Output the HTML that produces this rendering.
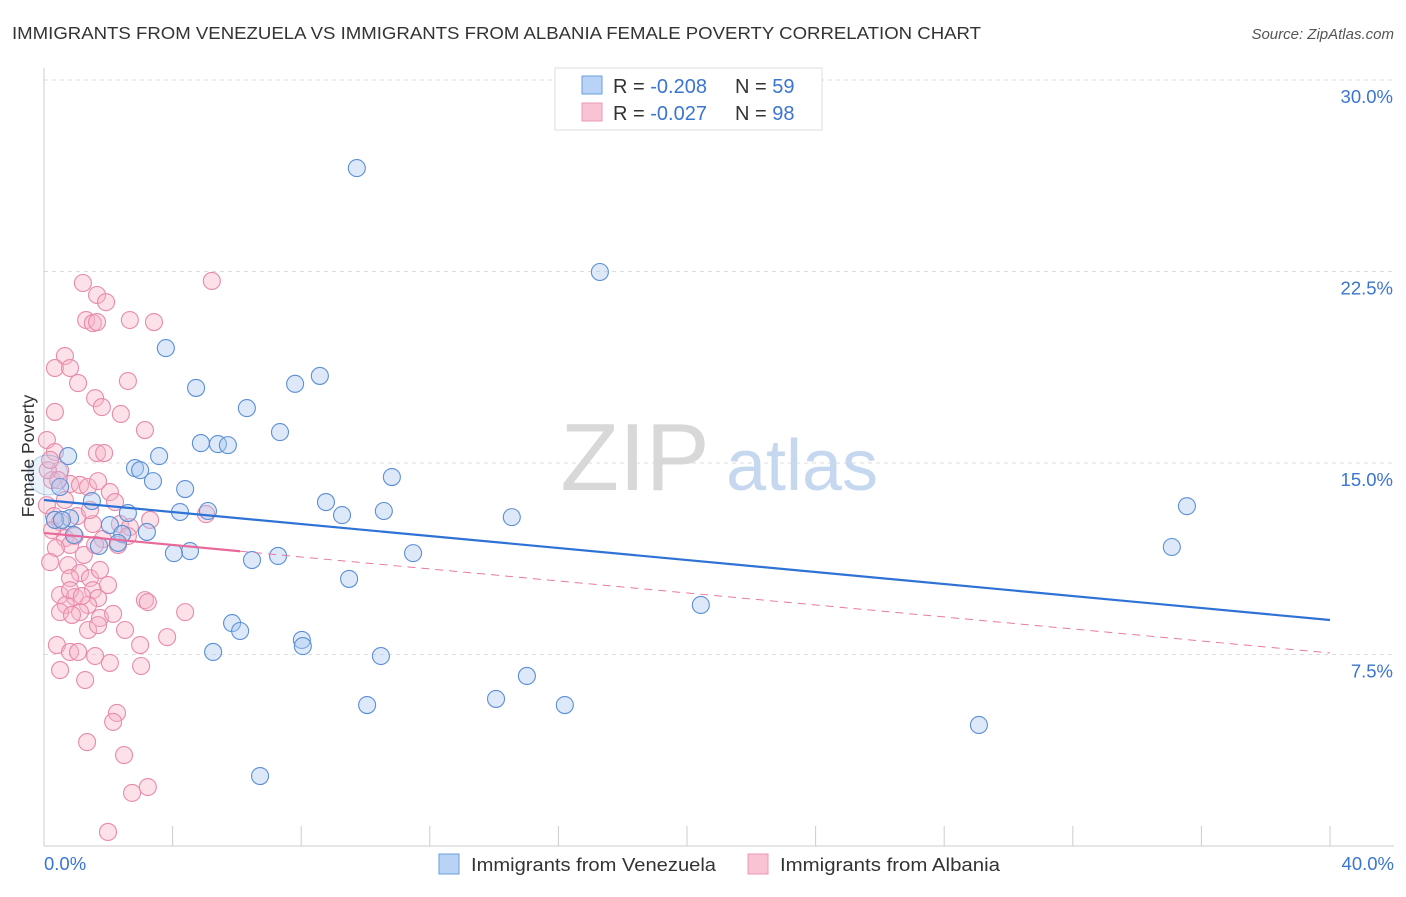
<!DOCTYPE html>
<html><head><meta charset="utf-8"><style>
body{margin:0;background:#fff;font-family:"Liberation Sans",sans-serif}
svg text{font-family:"Liberation Sans",sans-serif}
</style></head><body>
<svg id="chart" width="1406" height="892">
<text x="12" y="39" font-size="17.5" fill="#333" textLength="969" lengthAdjust="spacingAndGlyphs">IMMIGRANTS FROM VENEZUELA VS IMMIGRANTS FROM ALBANIA FEMALE POVERTY CORRELATION CHART</text>
<text x="1394" y="39" font-size="15" fill="#555" text-anchor="end" font-style="italic">Source: ZipAtlas.com</text>
<g id="grid"></g>
<g>
<text x="635" y="490" font-size="96" fill="#d8d8d8" font-family="Liberation Serif" text-anchor="middle">ZIP</text>
<text x="802" y="490" font-size="72" fill="#c6d8ef" text-anchor="middle">atlas</text>
</g>
<g id="marks"></g>
<text transform="translate(34,456) rotate(-90)" font-size="17.5" fill="#333" text-anchor="middle">Female Poverty</text>
<text x="44" y="870" font-size="18.5" fill="#3a75d0">0.0%</text>
<text x="1394" y="870" font-size="18.5" fill="#3a75d0" text-anchor="end">40.0%</text>
<g>
<rect x="555" y="68" width="267" height="62" fill="#fff" stroke="#ddd"/>
<rect x="582" y="76" width="20" height="18" fill="#b8d3f5" stroke="#6a9ee0"/>
<rect x="582" y="103" width="20" height="18" fill="#f9c3d4" stroke="#ea9ab5"/>
<text x="613" y="93" font-size="20" fill="#333">R = <tspan fill="#3a75d0">-0.208</tspan><tspan x="735">N = </tspan><tspan fill="#3a75d0">59</tspan></text>
<text x="613" y="120" font-size="20" fill="#333">R = <tspan fill="#3a75d0">-0.027</tspan><tspan x="735">N = </tspan><tspan fill="#3a75d0">98</tspan></text>
</g>
<g>
<rect x="439" y="854" width="20" height="20" fill="#b8d3f5" stroke="#6a9ee0"/>
<text x="471" y="871" font-size="18.5" fill="#333" textLength="245" lengthAdjust="spacingAndGlyphs">Immigrants from Venezuela</text>
<rect x="748" y="854" width="20" height="20" fill="#f9c3d4" stroke="#ea9ab5"/>
<text x="780" y="871" font-size="18.5" fill="#333" textLength="220" lengthAdjust="spacingAndGlyphs">Immigrants from Albania</text>
</g>
</svg>
<script>
const yTicks=[7.5,15,22.5,30];
const yTickLabels=["7.5%","15.0%","22.5%","30.0%"];
const xTicks=[0,4,8,12,16,20,24,28,32,36,40];
const venX=[9.73,17.29,3.79,8.58,7.81,4.73,6.31,7.34,4.88,5.41,5.72,3.58,0.75,2.83,2.99,10.82,3.39,0.5,4.39,1.49,8.77,35.55,5.1,4.23,10.57,9.27,14.55,2.61,0.81,2.05,0.34,3.2,2.43,0.93,1.71,2.3,35.08,4.54,4.04,11.48,7.28,6.47,9.49,20.43,5.85,6.1,8.02,8.05,5.26,10.48,15.02,14.06,10.05,16.2,29.08,6.72,0.56,0.12];
const venY=[26.55,22.48,19.5,18.41,18.1,17.94,17.15,16.21,15.78,15.74,15.7,15.27,15.27,14.8,14.72,14.45,14.29,14.06,13.98,13.51,13.47,13.31,13.12,13.08,13.12,12.96,12.88,13.04,12.84,12.57,12.77,12.3,12.22,12.18,11.75,11.87,11.71,11.55,11.47,11.47,11.36,11.2,10.46,9.44,8.73,8.42,8.07,7.83,7.6,7.44,6.66,5.76,5.52,5.52,4.74,2.74,12.77,14.53];
const albX=[1.21,5.22,1.65,1.93,1.31,1.52,1.65,2.67,3.42,0.65,0.34,0.81,1.06,2.61,0.34,1.59,1.8,2.39,3.14,0.09,0.34,1.65,1.87,0.81,1.12,1.37,1.68,2.05,2.21,0.09,0.31,1.03,0.5,1.52,2.36,2.67,0.65,0.96,0.81,1.83,2.3,0.37,2.61,5.04,0.19,0.75,1.12,1.43,0.81,1.52,0.5,0.96,1.68,1.37,0.68,1.12,3.14,3.23,4.39,0.5,0.87,1.74,2.15,1.37,2.52,3.83,0.4,0.81,1.06,1.59,2.05,3.02,0.5,1.28,2.27,2.15,1.34,2.49,3.23,2.74,1.99,0.25,0.5,0.12,0.25,0.65,0.19,1.24,0.81,1.68,1.99,2.99,1.74,1.18,0.44,1.43,3.3,1.59];
const albY=[22.05,22.13,21.58,21.3,20.6,20.48,20.52,20.6,20.52,19.19,18.72,18.72,18.13,18.21,17.0,17.54,17.19,16.92,16.29,15.9,15.43,15.39,15.39,14.18,14.14,14.06,14.29,13.86,13.47,13.35,12.92,12.92,12.69,12.61,12.61,12.49,12.06,12.14,11.79,12.02,11.79,11.67,12.14,13.0,11.12,11.0,10.69,10.49,10.49,10.02,9.83,9.75,9.71,9.44,9.44,9.16,9.63,9.55,9.16,9.16,9.05,8.93,9.09,8.46,8.46,8.18,7.87,7.6,7.6,7.44,7.17,7.05,6.89,6.5,5.21,4.86,4.07,3.56,2.31,2.08,0.55,14.33,14.72,14.72,12.37,13.55,15.12,11.4,10.02,8.65,10.22,7.87,10.81,9.79,14.33,13.16,12.77,11.79];
const venTrend=[13.55,8.85];
const albTrend=[12.26,7.56];
const albSolidEnd=6.1;
const NS="http://www.w3.org/2000/svg";
const X=v=>44+v/40*1286, Y=v=>846-v/30*766;
function mk(tag,attrs,parent){const e=document.createElementNS(NS,tag);for(const k in attrs)e.setAttribute(k,attrs[k]);parent.appendChild(e);return e;}
const grid=document.getElementById('grid'), marks=document.getElementById('marks'), svg=document.getElementById('chart');
yTicks.forEach((t,i)=>{
 const l=mk('line',{x1:44,x2:1394,y1:Y(t),y2:Y(t),stroke:'#ddd','stroke-dasharray':'4,4'},grid);
 
 
 const tx=mk('text',{x:1393,y:Y(t)+23,'font-size':18.5,fill:'#3a75d0','text-anchor':'end'},svg);
 tx.textContent=yTickLabels[i];
 
 
});
const ax=mk('line',{x1:44,x2:44,y1:68,y2:846,stroke:'#ccc'},grid);


const bx=mk('line',{x1:44,x2:1394,y1:846,y2:846,stroke:'#ccc'},grid);


xTicks.forEach(t=>{
 const l=mk('line',{x1:X(t),x2:X(t),y1:826,y2:846,stroke:'#ccc'},grid);
 
 
});
function pts(xs,ys,fill,stroke,name){
 xs.forEach((x,i)=>{
  const big=(name==='venezuela-point'&&i===xs.length-1);
  const c=mk('circle',{cx:X(x),cy:Y(ys[i]),r:big?20:8.5,fill:fill,'fill-opacity':big?0.25:0.4,stroke:stroke,'stroke-opacity':big?0.4:1,'stroke-width':1.1},marks);
  
  
 });
}
pts(albX,albY,'#f7b3c9','#e88aaa','albania-point');
pts(venX,venY,'#a9c7ef','#5b8fd6','venezuela-point');
const vt=mk('line',{x1:X(0),y1:Y(venTrend[0]),x2:X(40),y2:Y(venTrend[1]),stroke:'#2f72d6','stroke-width':2.2},marks);


const ay=x=>albTrend[0]+(albTrend[1]-albTrend[0])*x/40;
const ad=mk('line',{x1:X(albSolidEnd),y1:Y(ay(albSolidEnd)),x2:X(40),y2:Y(albTrend[1]),stroke:'#e87aa0','stroke-width':1,'stroke-dasharray':'8,6'},marks);


const as=mk('line',{x1:X(0),y1:Y(albTrend[0]),x2:X(albSolidEnd),y2:Y(ay(albSolidEnd)),stroke:'#e8699a','stroke-width':2.2},marks);


</script>
</body></html>
